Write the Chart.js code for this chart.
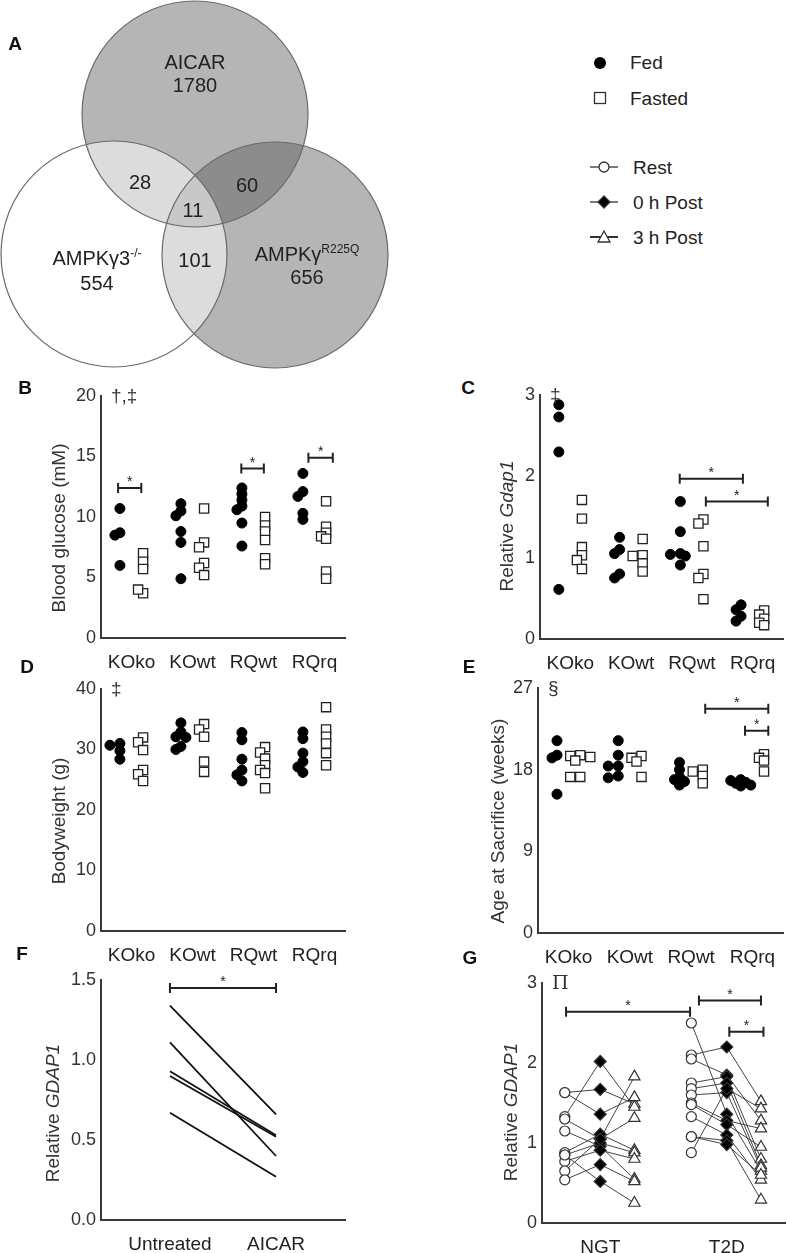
<!doctype html>
<html><head><meta charset="utf-8">
<title>Gdap1 figure</title>
<script src="https://cdn.jsdelivr.net/npm/chart.js@4"></script>
<style>
  body { margin: 0; background: #fff; font-family: 'Liberation Sans', Arial, sans-serif; }
  #fig { position: relative; width: 787px; height: 1253px; overflow: hidden; }
  #fig canvas, .lbl, svg { position: absolute; }
  .lbl { white-space: nowrap; color: #222; font-size: 20px; line-height: 1; transform: translate(-50%, -50%); }
  .letter { font-weight: bold; font-size: 19px; color: #111; }
  .leg { font-size: 19px; transform: translate(0, -50%); }
  .ytitle { font-size: 19px; color: #333; transform: translate(-50%, -50%) rotate(-90deg); }
  sup { font-size: 12px; vertical-align: 8px; }
</style>
</head><body>
<div id="fig"></div>
<script>
// ---- data ----
const vennSets = ['AICAR', 'AMPKγ3<sup>-/-</sup>', 'AMPKγ<sup>R225Q</sup>'];
const vennOnly = [1780, 554, 656];
const vennPairs = [28, 60, 101];   // AICAR∩γ3, AICAR∩R225Q, γ3∩R225Q
const vennAll = 11;

const mouseGroups = ['KOko', 'KOwt', 'RQwt', 'RQrq'];
const glucoseFed = [[10.7, 8.7, 8.5, 6.0], [11.1, 10.5, 10.1, 8.8, 7.9, 4.9], [12.4, 11.9, 11.4, 10.9, 10.6, 9.5, 7.6], [13.6, 12.1, 11.7, 10.3, 9.8]];
const glucoseFasted = [[7.0, 6.3, 5.7, 3.7, 4.0], [10.7, 7.9, 7.5, 6.2, 5.8, 5.2], [10.0, 9.3, 8.8, 8.1, 6.6, 6.1], [11.3, 9.2, 8.7, 8.4, 8.2, 5.5, 4.9]];
const gdapFed = [[2.88, 2.73, 2.30, 0.61], [1.25, 1.10, 1.05, 0.80, 0.75], [1.69, 1.32, 1.05, 1.04, 1.02, 0.91], [0.42, 0.36, 0.28, 0.22]];
const gdapFasted = [[1.71, 1.48, 1.13, 1.03, 0.97, 0.86], [1.23, 1.03, 1.02, 0.93, 0.83], [1.47, 1.42, 1.14, 0.80, 0.75, 0.49], [0.35, 0.30, 0.25, 0.20, 0.17]];
const weightFed = [[31.0, 30.7, 29.8, 28.4], [34.4, 32.9, 32.1, 32.0, 30.5, 30.0], [32.8, 31.6, 28.4, 26.6, 25.8, 24.8], [32.9, 31.8, 29.4, 28.0, 27.1, 26.2]];
const weightFasted = [[32.0, 31.2, 29.9, 26.6, 25.9, 24.8], [34.2, 33.3, 32.1, 28.0, 26.3], [30.4, 29.5, 28.5, 27.4, 26.6, 26.1, 23.6], [37.0, 33.3, 32.1, 31.0, 29.4, 27.4]];
const ageFed = [[21.2, 19.6, 19.3, 15.3], [21.2, 19.6, 18.4, 18.4, 17.3, 17.1], [18.8, 18.0, 17.2, 16.9, 16.7, 16.3], [16.9, 16.8, 16.6, 16.5, 16.3, 16.2]];
const ageFasted = [[19.6, 19.5, 19.4, 19.0, 17.2, 17.2], [19.5, 19.3, 18.9, 17.2], [18.0, 17.8, 17.3, 16.5], [19.7, 19.3, 19.0, 17.8]];

const treatments = ['Untreated', 'AICAR'];
const gdapUntreated = [1.34, 1.11, 0.93, 0.90, 0.67];
const gdapAicar = [0.66, 0.40, 0.53, 0.52, 0.27];

const cohorts = ['NGT', 'T2D'];
const ngtRest = [1.63, 1.63, 1.33, 1.30, 1.15, 0.88, 0.85, 0.77, 0.65, 0.54, 0.85];
const ngtPost0 = [1.67, 1.36, 2.02, 1.05, 0.96, 1.11, 1.00, 0.91, 1.05, 0.73, 0.52];
const ngtPost3 = [1.49, 1.57, 1.45, 1.83, 0.55, 0.91, 0.88, 0.80, 1.31, 0.52, 0.25];
const t2dRest = [2.50, 2.10, 2.05, 1.75, 1.68, 1.60, 1.50, 1.48, 1.33, 1.08, 0.88, 1.08];
const t2dPost0 = [1.36, 2.20, 1.85, 1.83, 1.75, 1.63, 1.28, 1.23, 1.10, 1.03, 1.68, 0.98];
const t2dPost3 = [0.65, 1.52, 1.28, 0.80, 0.72, 0.69, 1.18, 0.95, 0.54, 0.29, 1.43, 0.60];

// ---- layout ----
const fig = document.getElementById('fig');
const AXIS = '#3a3a3a';
const FONT = "'Liberation Sans', Arial, sans-serif";
Chart.defaults.font.family = FONT;
Chart.defaults.color = '#333';

function label(html, x, y, cls) {
  const d = document.createElement('div');
  d.className = 'lbl ' + (cls || '');
  d.innerHTML = html;
  d.style.left = x + 'px';
  d.style.top = y + 'px';
  fig.appendChild(d);
}

function addCanvas(left, top, w, h) {
  const cv = document.createElement('canvas');
  cv.width = w; cv.height = h;
  Object.assign(cv.style, { left: left + 'px', top: top + 'px', width: w + 'px', height: h + 'px' });
  fig.appendChild(cv);
  return cv;
}

// brackets, stars and the little symbols next to the top tick
Chart.register({
  id: 'marks',
  afterDatasetsDraw(chart, args, o) {
    const { ctx, scales: { x, y }, chartArea } = chart;
    ctx.save();
    ctx.strokeStyle = '#222'; ctx.fillStyle = '#222'; ctx.lineWidth = 2;
    (o.brackets || []).forEach(([a, b, v]) => {
      const x1 = x.getPixelForValue(a), x2 = x.getPixelForValue(b), yy = y.getPixelForValue(v);
      ctx.beginPath();
      ctx.moveTo(x1, yy); ctx.lineTo(x2, yy);
      ctx.moveTo(x1, yy - 5); ctx.lineTo(x1, yy + 5);
      ctx.moveTo(x2, yy - 5); ctx.lineTo(x2, yy + 5);
      ctx.stroke();
      ctx.font = '14px ' + FONT; ctx.textAlign = 'center'; ctx.textBaseline = 'alphabetic';
      ctx.fillText('*', (x1 + x2) / 2, yy - 2);
    });
    if (o.note) {
      ctx.font = (o.noteFont || '19px ' + FONT); ctx.textAlign = 'left'; ctx.textBaseline = 'middle';
      ctx.fillStyle = '#333';
      ctx.fillText(o.note, chartArea.left + 10, chartArea.top + 1);
    }
    ctx.restore();
  }
});

const padL = 62, padT = 22, padR = 8, padB = 46;
function plot(rect, xr, yr, datasets, marks) {
  const cv = addCanvas(rect.x0 - padL, rect.y0 - padT, rect.x1 - rect.x0 + padL + padR, rect.y1 - rect.y0 + padT + padB);
  return new Chart(cv, {
    type: 'scatter',
    data: { datasets },
    options: {
      responsive: false, animation: false, events: [],
      layout: { autoPadding: false, padding: { top: padT, right: padR, left: 0, bottom: 0 } },
      plugins: { legend: { display: false }, tooltip: { enabled: false }, marks },
      scales: {
        x: {
          type: 'linear', min: xr.min, max: xr.max,
          grid: { display: false, drawTicks: false },
          border: { display: true, color: AXIS, width: 2 },
          afterFit: s => { s.height = padB; },
          afterBuildTicks: s => { s.ticks = xr.labels.map((c, i) => ({ value: i + 1 })); },
          ticks: { autoSkip: false, maxRotation: 0, padding: 13, color: '#222', font: { size: 19 },
                   callback: v => xr.labels[v - 1] }
        },
        y: {
          min: yr.min, max: yr.max,
          grid: { display: false, drawTicks: false },
          border: { display: true, color: AXIS, width: 2 },
          afterFit: s => { s.width = padL; },
          ticks: { stepSize: yr.step, padding: 5, color: '#333', font: { size: 18 },
                   callback: yr.fmt || (v => v) }
        }
      }
    }
  });
}

// spread overlapping dots sideways (simple beeswarm in pixel space)
function swarm(vals, centre, pxX, pxY, step, minDist) {
  const placed = [];
  return vals.map(v => {
    const py = v * pxY;
    let off = 0;
    for (let k = 0; k < 15; k++) {
      const o = (k === 0 ? 0 : (k % 2 ? -1 : 1) * Math.ceil(k / 2)) * step;
      if (placed.every(p => Math.hypot(p[0] - o, p[1] - py) >= minDist)) { off = o; break; }
    }
    placed.push([off, py]);
    return { x: centre + off / pxX, y: v };
  });
}

function mousePanel(rect, fed, fasted, yr, marks) {
  const xr = { min: 0.5, max: 4.5, labels: mouseGroups };
  const pxX = (rect.x1 - rect.x0) / (xr.max - xr.min), pxY = (rect.y1 - rect.y0) / (yr.max - yr.min);
  const sets = [
    { data: fed.flatMap((vals, i) => swarm(vals, i + 1 - 0.19, pxX, pxY, 5, 5.5)),
      pointStyle: 'circle', pointRadius: 5, backgroundColor: '#000', borderColor: '#000', borderWidth: 1, clip: false },
    { data: fasted.flatMap((vals, i) => swarm(vals, i + 1 + 0.19, pxX, pxY, 5, 5.5)),
      pointStyle: 'rect', pointRadius: 6.5, backgroundColor: '#fff', borderColor: '#222', borderWidth: 1.3, clip: false }
  ];
  return plot(rect, xr, yr, sets, marks);
}

// ---- A: Venn ----
const vennLayout = { x: [195, 114, 275], y: [114, 254, 255], r: [113, 113, 113] };
const vennCv = addCanvas(0, 0, 400, 370);
const circle = i => ({ x: vennLayout.x[i], y: vennLayout.y[i], r: vennLayout.r[i] });
new Chart(vennCv, {
  type: 'bubble',
  data: { datasets: [
    { data: [0, 1, 2].map(circle), backgroundColor: 'rgba(0,0,0,0)', borderColor: '#6a6a6a', borderWidth: 1.2, clip: false },
    { data: [circle(1)], backgroundColor: 'rgba(255,255,255,0.53)', borderWidth: 0, clip: false },
    { data: [circle(0)], backgroundColor: 'rgba(91,91,91,0.45)', borderWidth: 0, clip: false },
    { data: [circle(2)], backgroundColor: 'rgba(91,91,91,0.45)', borderWidth: 0, clip: false }
  ] },
  options: {
    responsive: false, animation: false, events: [],
    layout: { autoPadding: false, padding: 0 },
    plugins: { legend: { display: false }, tooltip: { enabled: false }, marks: {} },
    scales: { x: { display: false, min: 0, max: 400 }, y: { display: false, min: 0, max: 370, reverse: true } }
  }
});
label(vennSets[0], 195, 62); label(vennOnly[0], 195, 85);
label(vennSets[1], 97, 257); label(vennOnly[1], 97, 283);
label(vennSets[2], 307, 253); label(vennOnly[2], 307, 277);
label(vennPairs[0], 140, 182); label(vennPairs[1], 247, 185);
label(vennPairs[2], 195, 260); label(vennAll, 193, 210);

// legend
fig.insertAdjacentHTML('beforeend', `
<svg style="left:580px;top:40px" width="50" height="215" viewBox="0 0 50 215">
  <circle cx="20" cy="23" r="6" fill="#000"/>
  <rect x="14.5" y="52.5" width="11" height="11" fill="#fff" stroke="#333" stroke-width="1.3"/>
  <g stroke="#333" stroke-width="1.3">
    <line x1="10" y1="127" x2="38" y2="127"/><circle cx="24" cy="127" r="5" fill="#fff"/>
    <line x1="10" y1="162" x2="38" y2="162"/><path d="M24 156 L30 162 L24 168 L18 162 Z" fill="#000"/>
    <line x1="10" y1="197" x2="38" y2="197" stroke-width="2"/><path d="M24 191 L30 202 L18 202 Z" fill="#fff"/>
  </g>
</svg>`);
[['Fed', 630, 62], ['Fasted', 630, 98], ['Rest', 633, 167], ['0 h Post', 633, 202], ['3 h Post', 633, 237]]
  .forEach(([t, x, y]) => label(t, x, y, 'leg'));

// ---- B-E ----
mousePanel({ x0: 101, x1: 345, y0: 396, y1: 638 }, glucoseFed, glucoseFasted, { min: 0, max: 20, step: 5 },
  { note: '†,‡', brackets: [[0.78, 1.16, 12.4], [2.8, 3.17, 14.0], [3.9, 4.3, 14.9]] });
mousePanel({ x0: 540, x1: 783, y0: 395, y1: 639 }, gdapFed, gdapFasted, { min: 0, max: 3, step: 1 },
  { note: '‡', brackets: [[2.8, 3.84, 1.97], [3.23, 4.25, 1.69]] });
mousePanel({ x0: 101, x1: 345, y0: 689, y1: 931 }, weightFed, weightFasted, { min: 0, max: 40, step: 10 },
  { note: '‡' });
mousePanel({ x0: 538, x1: 783, y0: 688, y1: 933 }, ageFed, ageFasted, { min: 0, max: 27, step: 9 },
  { note: '§', brackets: [[3.23, 4.26, 24.7], [3.88, 4.26, 22.3]] });

// ---- F ----
plot({ x0: 101, x1: 345, y0: 980, y1: 1220 }, { min: 0.35, max: 2.65, labels: treatments },
  { min: 0, max: 1.5, step: 0.5, fmt: v => v.toFixed(1) },
  gdapUntreated.map((u, i) => ({ data: [{ x: 1, y: u }, { x: 2, y: gdapAicar[i] }], showLine: true,
    pointRadius: 0, borderColor: '#111', borderWidth: 1.8 })),
  { brackets: [[1, 2, 1.45]] });

// ---- G ----
const timeOffsets = [-0.28, 0, 0.27];
const gSubjects = [[ngtRest, ngtPost0, ngtPost3], [t2dRest, t2dPost0, t2dPost3]];
const gPoint = (g, t, v) => ({ x: g + 1 + timeOffsets[t], y: v });
const gMarkers = [
  { pointStyle: 'circle', pointRadius: 5, backgroundColor: '#fff' },
  { pointStyle: 'rectRot', pointRadius: 6, backgroundColor: '#000' },
  { pointStyle: 'triangle', pointRadius: 6.5, backgroundColor: '#fff' }
].map((m, t) => Object.assign({
  data: gSubjects.flatMap((series, g) => series[t].map(v => gPoint(g, t, v))),
  borderColor: '#333', borderWidth: 1.2, clip: false }, m));
const gLines = gSubjects.flatMap((series, g) => series[0].map((_, s) => ({
  data: series.map((vals, t) => gPoint(g, t, vals[s])), showLine: true, pointRadius: 0,
  borderColor: '#444', borderWidth: 1 })));
plot({ x0: 542, x1: 785, y0: 983, y1: 1223 }, { min: 0.54, max: 2.46, labels: cohorts },
  { min: 0, max: 3, step: 1 }, gMarkers.concat(gLines),
  { note: 'Π', noteFont: '19px "DejaVu Serif", serif', brackets: [[0.73, 1.71, 2.64], [1.78, 2.27, 2.78], [2.02, 2.29, 2.39]] });

// ---- axis titles and panel letters ----
label('Blood glucose (mM)', 58, 528, 'ytitle');
label('Relative <i>Gdap1</i>', 506, 526, 'ytitle');
label('Bodyweight (g)', 58, 821, 'ytitle');
label('Age at Sacrifice (weeks)', 497, 821, 'ytitle');
label('Relative <i>GDAP1</i>', 52, 1113, 'ytitle');
label('Relative <i>GDAP1</i>', 510, 1112, 'ytitle');
[['A', 15, 43], ['B', 25, 387], ['C', 468, 387], ['D', 27, 666], ['E', 469, 666], ['F', 22, 953], ['G', 470, 957]]
  .forEach(([t, x, y]) => label(t, x, y, 'letter'));
</script>
</body></html>
